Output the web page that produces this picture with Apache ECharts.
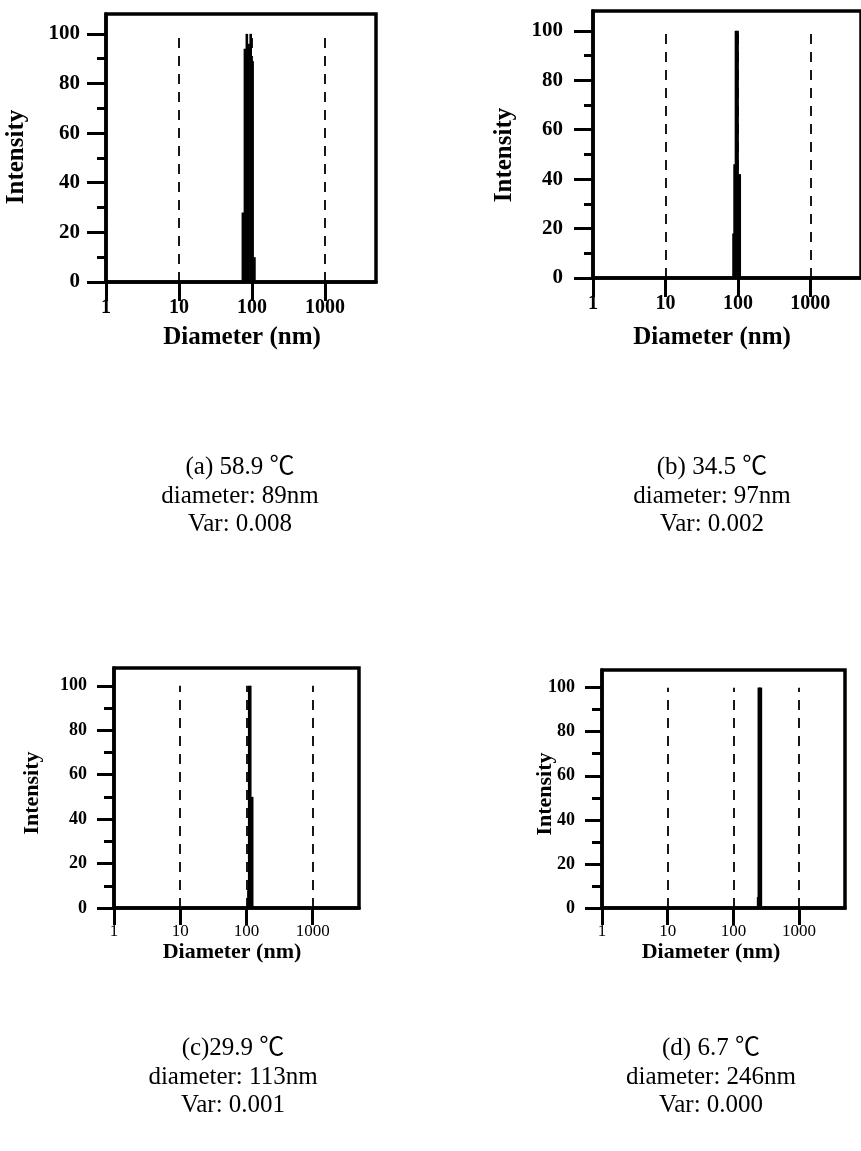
<!DOCTYPE html>
<html>
<head>
<meta charset="utf-8">
<script src="https://cdn.jsdelivr.net/npm/echarts@6/dist/echarts.min.js"></script>
<style>
  html, body { margin: 0; padding: 0; background: #fff; }
  #chart { width: 861px; height: 1151px; }
</style>
</head>
<body>
<div id="chart"></div>
<script>
// ---------------- data ----------------
const xTicks = [1, 10, 100, 1000];
const yTicks = [0, 20, 40, 60, 80, 100];
const yMinorTicks = [10, 30, 50, 70, 90];
const refLines = [10, 100, 1000];

const diamA = [75, 80, 85, 90, 96, 102, 108];
const intA  = [28, 94, 100, 96, 100, 89, 10];

const diamB = [87, 90, 94, 99, 102, 106];
const intB  = [18, 46, 100, 100, 42, 42];

const diamC = [107, 110, 114, 119, 122];
const intC  = [8, 100, 100, 50, 50];

const diamD = [238, 244, 252, 262];
const intD  = [5, 100, 100, 100];

const captionA = ['(a) 58.9 ℃', 'diameter: 89nm', 'Var: 0.008'];
const captionB = ['(b) 34.5 ℃', 'diameter: 97nm', 'Var: 0.002'];
const captionC = ['(c)29.9 ℃', 'diameter: 113nm', 'Var: 0.001'];
const captionD = ['(d) 6.7 ℃', 'diameter: 246nm', 'Var: 0.000'];

const xName = 'Diameter (nm)';
const yName = 'Intensity';

// ---------------- layout ----------------
const FONT = '"Liberation Serif", "Times New Roman", "Noto Sans CJK SC", serif';
const panels = [
  { d: diamA, v: intA, cap: captionA, grid: {left: 106, top: 14, width: 270, height: 268},
    yTickFont: 21, xTickFont: 20, xTickWeight: 'bold', nameFont: 25, yMargin: 26, xMargin: 16, tickLen: 19, minorLen: 9,
    capX: 240, capY: [467, 496, 524], yNameX: 17, yNameY: 157, xNameX: 242, xNameY: 338 },
  { d: diamB, v: intB, cap: captionB, grid: {left: 593, top: 11, width: 272, height: 267},
    yTickFont: 21, xTickFont: 20, xTickWeight: 'bold', nameFont: 25, yMargin: 30, xMargin: 16, tickLen: 19, minorLen: 9,
    capX: 712, capY: [467, 496, 524], yNameX: 505, yNameY: 155, xNameX: 712, xNameY: 338 },
  { d: diamC, v: intC, cap: captionC, grid: {left: 114, top: 668, width: 245, height: 240},
    yTickFont: 18, xTickFont: 17, xTickWeight: 'normal', nameFont: 22, yMargin: 27, xMargin: 15, tickLen: 17, minorLen: 10,
    capX: 233, capY: [1048, 1077, 1105], yNameX: 32, yNameY: 793, xNameX: 232, xNameY: 952 },
  { d: diamD, v: intD, cap: captionD, grid: {left: 602, top: 670, width: 243, height: 238},
    yTickFont: 18, xTickFont: 17, xTickWeight: 'normal', nameFont: 22, yMargin: 27, xMargin: 15, tickLen: 17, minorLen: 10,
    capX: 711, capY: [1048, 1077, 1105], yNameX: 545, yNameY: 794, xNameX: 711, xNameY: 952 }
];

const BAR_W = 2.6;
function renderBar(params, api) {
  const d = api.value(0), h = api.value(1);
  const p0 = api.coord([d, 0]);
  const p1 = api.coord([d, h]);
  return {
    type: 'rect',
    shape: { x: p0[0] - BAR_W / 2, y: p1[1], width: BAR_W, height: p0[1] - p1[1] },
    style: { fill: '#000' }
  };
}

const grids = [], xAxes = [], yAxes = [], series = [], graphics = [];
panels.forEach((p, i) => {
  grids.push(Object.assign({ show: true, borderColor: '#000', borderWidth: 3.5, backgroundColor: 'transparent' }, p.grid));
  xAxes.push({
    type: 'log', logBase: 10, gridIndex: i, min: 1, max: 5000,
    axisLine: { show: true, lineStyle: { color: '#000', width: 3.5 } },
    axisTick: { show: true, customValues: xTicks, length: p.tickLen, lineStyle: { color: '#000', width: 3 } },
    axisLabel: { customValues: xTicks, color: '#000', fontFamily: FONT, fontWeight: p.xTickWeight, fontSize: p.xTickFont,
                 margin: p.xMargin, formatter: v => String(Math.round(v)) },
    splitLine: { show: false }, minorTick: { show: false }
  });
  yAxes.push({
    type: 'value', gridIndex: i, min: 0, max: 108,
    axisLine: { show: true, lineStyle: { color: '#000', width: 3.5 } },
    axisTick: { show: true, customValues: yTicks, length: p.tickLen, lineStyle: { color: '#000', width: 3 } },
    axisLabel: { customValues: yTicks, color: '#000', fontFamily: FONT, fontWeight: 'bold', fontSize: p.yTickFont, margin: p.yMargin },
    splitLine: { show: false }
  });
  yAxes.push({
    type: 'value', gridIndex: i, min: 0, max: 108, position: 'left', offset: 0,
    axisLine: { show: false },
    axisTick: { show: true, customValues: yMinorTicks, length: p.minorLen, lineStyle: { color: '#000', width: 3 } },
    axisLabel: { show: false },
    splitLine: { show: false }
  });
  series.push({
    type: 'custom', xAxisIndex: i, yAxisIndex: 2 * i,
    data: p.d.map((d, k) => [d, p.v[k]]),
    encode: { x: 0, y: 1 },
    renderItem: renderBar,
    silent: true,
    markLine: {
      silent: true, symbol: ['none', 'none'], label: { show: false },
      lineStyle: { color: '#000', width: 1.8, type: [10, 8] },
      data: refLines.map(x => [{ coord: [x, 0] }, { coord: [x, 100] }])
    },
    z: 3
  });
  graphics.push({
    type: 'text', x: p.yNameX, y: p.yNameY, rotation: Math.PI / 2,
    style: { text: yName, fontFamily: FONT, fontWeight: 'bold', fontSize: p.nameFont, fill: '#000',
             align: 'center', verticalAlign: 'middle' }
  });
  graphics.push({
    type: 'text', x: p.xNameX, y: p.xNameY,
    style: { text: xName, fontFamily: FONT, fontWeight: 'bold', fontSize: p.nameFont, fill: '#000',
             align: 'center', verticalAlign: 'middle' }
  });
  p.cap.forEach((t, k) => {
    graphics.push({
      type: 'text', x: p.capX, y: p.capY[k],
      style: { text: t, fontFamily: FONT, fontSize: 25, fill: '#000', align: 'center', verticalAlign: 'middle' }
    });
  });
});

const chart = echarts.init(document.getElementById('chart'), null, { renderer: 'canvas' });
chart.setOption({
  animation: false,
  backgroundColor: '#fff',
  grid: grids, xAxis: xAxes, yAxis: yAxes, series: series, graphic: graphics
});
</script>
</body>
</html>
